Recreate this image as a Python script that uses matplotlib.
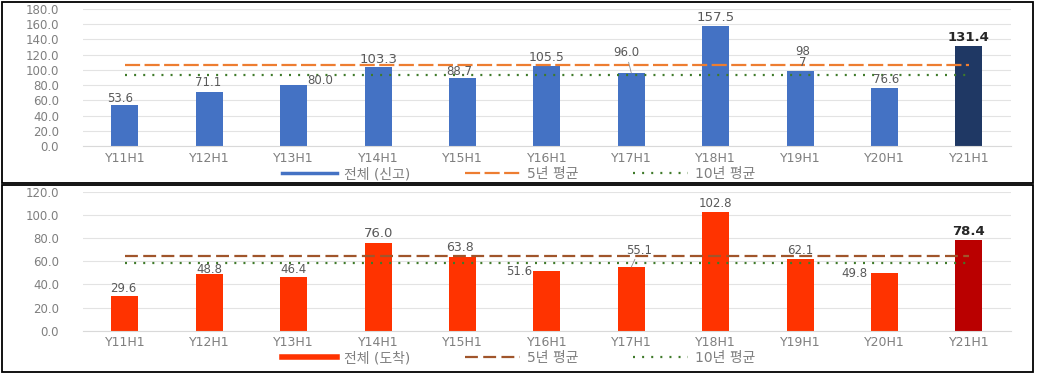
import matplotlib
matplotlib.use("Agg")
import matplotlib.pyplot as plt
from matplotlib.lines import Line2D
from matplotlib.patches import Rectangle
import numpy as np

plt.rcParams['font.family'] = ['DejaVu Sans', 'Noto Sans CJK KR']

# ---------------- data ----------------
categories = ['Y11H1', 'Y12H1', 'Y13H1', 'Y14H1', 'Y15H1', 'Y16H1',
              'Y17H1', 'Y18H1', 'Y19H1', 'Y20H1', 'Y21H1']
filed = [53.6, 71.1, 80.0, 103.3, 88.7, 105.5, 96.0, 157.5, 98.7, 76.6, 131.4]
arrived = [29.6, 48.8, 46.4, 76.0, 63.8, 51.6, 55.1, 102.8, 62.1, 49.8, 78.4]
filed_avg5 = [106.9] * 11
filed_avg10 = [93.1] * 11
arrived_avg5 = [64.3] * 11
arrived_avg10 = [58.6] * 11
filed_labels = ['53.6', '71.1', '80.0', '103.3', '88.7', '105.5', '96.0',
                '157.5', '98\n7', '76.6', '131.4']
arrived_labels = ['29.6', '48.8', '46.4', '76.0', '63.8', '51.6', '55.1',
                  '102.8', '62.1', '49.8', '78.4']
filed_legend = ['전체 (신고)', '5년 평균', '10년 평균']
arrived_legend = ['전체 (도착)', '5년 평균', '10년 평균']
filed_yticks = [0, 20, 40, 60, 80, 100, 120, 140, 160, 180]
arrived_yticks = [0, 20, 40, 60, 80, 100, 120]

# ---------------- styles ----------------
W, H = 1037, 376
fig = plt.figure(figsize=(W / 100, H / 100), dpi=100)

GRAY = '#7f7f7f'
LBL = '#595959'

# label-centre offsets in pixels (dx, dy) from bar top, font sizes, leader flags
top_off = [(-5, 7), (-1, 9), (26, 5), (0, 8), (-3, 7), (0, 8), (-5, 20),
           (0, 9), (3, 14), (2, 8), (0, 8)]
top_fs = [8.5, 8.5, 8.5, 9.5, 8.5, 9, 8.5, 9.5, 8.5, 8.5, 9.5]
top_lead = [False] * 6 + [True] + [False] * 4
bot_off = [(-2, 8), (0, 5), (0, 8), (0, 9), (-3, 9), (-28, 0), (8, 17),
           (0, 8), (0, 8), (-30, 0), (0, 9)]
bot_fs = [8.5, 8.5, 8.5, 9.5, 9, 8.5, 8.5, 8.5, 8.5, 8.5, 9.5]
bot_lead = [False] * 6 + [True] + [False] * 4


def panel(rect, vals, labels, offs, fss, leads, yticks, ymax,
          c_bar, c_last, c_5, c_10, avg5, avg10, leg_names, leg_y, bar_lw,
          dash5):
    ax = fig.add_axes(rect)
    x = np.arange(len(categories))
    colors = [c_bar] * (len(vals) - 1) + [c_last]
    ax.bar(x, vals, width=0.32, color=colors, zorder=2)
    ax.plot(x, avg5, color=c_5, lw=1.6, dashes=dash5, zorder=3)
    ax.plot(x, avg10, color=c_10, lw=1.6, dashes=(0.9, 3.2), zorder=3)
    ax.set_xlim(-0.5, len(categories) - 0.5)
    ax.set_ylim(0, ymax)
    ax.set_yticks(yticks)
    ax.set_yticklabels([f'{t:.1f}' for t in yticks])
    ax.set_xticks(x)
    ax.set_xticklabels(categories)
    ax.tick_params(axis='y', length=0, pad=17, labelsize=8.5, labelcolor=GRAY)
    ax.tick_params(axis='x', length=0, pad=4, labelsize=9, labelcolor=GRAY)
    for s in ['top', 'right', 'left']:
        ax.spines[s].set_visible(False)
    ax.spines['bottom'].set_color('#d9d9d9')
    ax.grid(axis='y', color='#e3e3e3', lw=0.8, zorder=0)
    ax.set_axisbelow(True)
    n = len(vals)
    for i, (v, t) in enumerate(zip(vals, labels)):
        dx, dy = offs[i]
        last = i == n - 1
        kw = {}
        if leads[i]:
            kw['arrowprops'] = dict(arrowstyle='-', color='#8c8c8c', lw=0.6,
                                    shrinkA=0, shrinkB=0)
        ax.annotate(t, xy=(i, v), xytext=(dx, dy), textcoords='offset pixels',
                    ha='center', va='center',
                    fontsize=fss[i], color='#262626' if last else LBL,
                    fontweight='bold' if last else 'normal',
                    linespacing=0.85, zorder=4, **kw)
    handles = [Line2D([], [], color=c_bar, lw=bar_lw),
               Line2D([], [], color=c_5, lw=1.6, dashes=dash5),
               Line2D([], [], color=c_10, lw=1.6, dashes=(0.9, 3.2))]
    fig.legend(handles, leg_names, loc='center', bbox_to_anchor=(0.5, leg_y),
               ncol=3, frameon=False, fontsize=10, labelcolor=GRAY,
               handlelength=4.0, handletextpad=0.5, columnspacing=3.9,
               borderaxespad=0)
    return ax


panel([82.8 / W, 1 - 146 / H, (1011 - 82.8) / W, 137 / H],
      filed, filed_labels, top_off, top_fs, top_lead, filed_yticks, 180,
      '#4472C4', '#1F3864', '#ED7D31', '#3F7A2A', filed_avg5, filed_avg10,
      filed_legend, 1 - 174 / H, 2.5, (6.8, 2.0))

panel([82.8 / W, 1 - 330.7 / H, (1011 - 82.8) / W, 138.7 / H],
      arrived, arrived_labels, bot_off, bot_fs, bot_lead, arrived_yticks, 120,
      '#FF3300', '#BA0000', '#A0552B', '#3F7A2A', arrived_avg5, arrived_avg10,
      arrived_legend, 1 - 358 / H, 4.0, (5.8, 2.4))

# panel borders
for (y0, y1) in [(1.5, 183), (185, 371.5)]:
    fig.patches.append(Rectangle((2 / W, 1 - y1 / H), (1033 - 2) / W,
                                 (y1 - y0) / H, transform=fig.transFigure,
                                 fill=False, edgecolor='black', lw=1.3))

fig.savefig('out.png', dpi=100)
